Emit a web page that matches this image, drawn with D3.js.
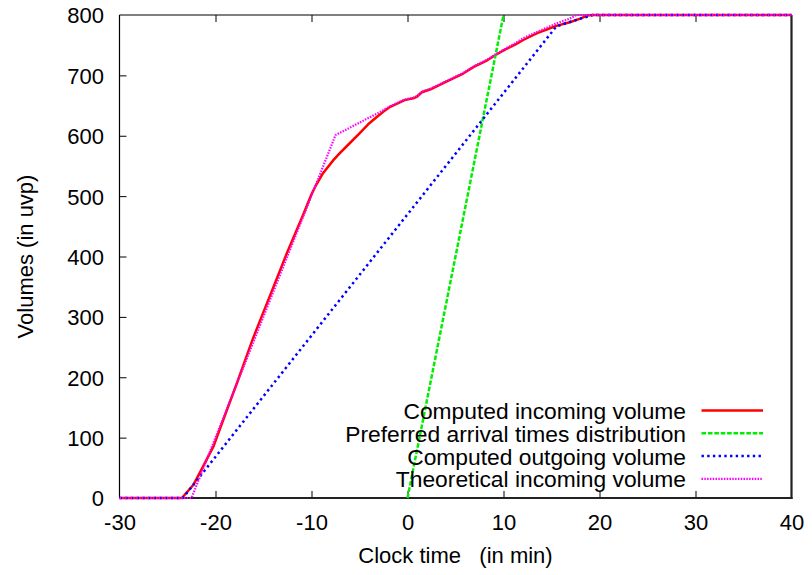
<!DOCTYPE html>
<html>
<head>
<meta charset="utf-8">
<script src="https://cdn.jsdelivr.net/npm/d3@7"></script>
<style>
  html, body { margin: 0; padding: 0; background: #fff; }
  text { font-family: "Liberation Sans", Arial, Helvetica, sans-serif; fill: #000; }
</style>
</head>
<body>
<svg id="chart" width="812" height="575"></svg>
<script>
// Cumulative volumes (uvp) against clock time (min)
const incomingTime = [-30, -23.5, -22.3, -21.3, -20.2, -19.2, -17.8, -16.1, -14.3, -12.6, -10.9, -10.0, -9.6, -8.8, -7.7, -7.0, -6.0, -5.0, -4.1, -3.2, -2.5, -1.8, -0.3, 0.6, 1.0, 1.5, 2.4, 4.1, 5.8, 6.9, 8.3, 9.3, 10.3, 11.2, 12.1, 13.5, 14.5, 15.5, 16.9, 18.0, 18.7, 19.3, 40];
const incomingVol  = [0, 0, 22, 52, 86, 129, 189, 264, 336, 404, 468, 503, 516, 538, 560, 572, 588, 604, 619, 631, 640, 648, 659, 662, 665, 672, 677, 690, 703, 714, 725, 735, 744, 751, 759, 770, 776, 782, 788, 794, 799, 800, 800];

const preferredTime = [0, 10];
const preferredVol  = [0, 800];

const outgoingTime = [-30, -23.4, 15.5, 17.6, 19.3, 40];
const outgoingVol  = [0, 0, 781, 792, 800, 800];

const theoreticalTime = [-30, -22.5, -7.5, -2.9, -1.8, -0.3, 0.6, 1.0, 1.5, 2.4, 4.1, 5.8, 6.9, 8.3, 9.3, 10.3, 11.2, 12.1, 13.5, 14.5, 15.5, 16.9, 17.6, 40];
const theoreticalVol  = [0, 0, 601, 639, 649, 660, 663, 666, 673, 678, 691, 704, 715, 726, 736, 745, 753, 762, 772, 779, 786, 794, 800, 800];

const xTicks = [-30, -20, -10, 0, 10, 20, 30, 40];
const yTicks = [0, 100, 200, 300, 400, 500, 600, 700, 800];

const seriesNames = [
  "Computed incoming volume",
  "Preferred arrival times distribution",
  "Computed outgoing volume",
  "Theoretical incoming volume"
];

const series = [
  { name: seriesNames[0], t: incomingTime,    v: incomingVol,    color: "#ff0000", width: 2.5, dash: null },
  { name: seriesNames[1], t: preferredTime,   v: preferredVol,   color: "#00ee00", width: 2.5, dash: "4.6,1.8" },
  { name: seriesNames[2], t: outgoingTime,    v: outgoingVol,    color: "#0000ff", width: 2.5, dash: "2.4,3.3" },
  { name: seriesNames[3], t: theoreticalTime, v: theoreticalVol, color: "#ff00ff", width: 2.2, dash: "1.5,1.3" }
];

const svg = d3.select("#chart");
const L = 119.5, R = 791.5, T = 15, B = 498;

const x = d3.scaleLinear().domain([-30, 40]).range([L, R]);
const y = d3.scaleLinear().domain([0, 800]).range([B, T]);
const fmt = d => String(d);

// inward ticks on left and bottom, mirrored ticks along the top
const tickLen = 7;
const gx = svg.append("g").attr("transform", `translate(0,${B})`)
  .call(d3.axisBottom(x).tickValues(xTicks).tickSizeInner(-tickLen).tickSizeOuter(0).tickPadding(0).tickFormat(fmt));
gx.select(".domain").remove();
gx.selectAll("line").attr("stroke", "#000");
gx.selectAll("text").attr("y", 32).attr("dy", null).attr("font-size", 22);

const gt = svg.append("g").attr("transform", `translate(0,${T})`)
  .call(d3.axisTop(x).tickValues(xTicks.slice(1, -1)).tickSizeInner(-tickLen).tickSizeOuter(0).tickFormat(""));
gt.select(".domain").remove();
gt.selectAll("line").attr("stroke", "#000");

const gy = svg.append("g").attr("transform", `translate(${L},0)`)
  .call(d3.axisLeft(y).tickValues(yTicks).tickSizeInner(-tickLen).tickSizeOuter(0).tickPadding(0).tickFormat(fmt));
gy.select(".domain").remove();
gy.selectAll("line").attr("stroke", "#000");
gy.selectAll("text").attr("x", -15.5).attr("dy", "0.36em").attr("font-size", 22);
gy.selectAll(".tick line").filter(d => d === 0 || d === 800).remove();
gx.selectAll(".tick line").filter(d => d === -30 || d === 40).remove();

// frame
svg.append("line").attr("x1", L).attr("x2", L).attr("y1", T).attr("y2", B).attr("stroke", "#000").attr("stroke-width", 1.2);
svg.append("line").attr("x1", L).attr("x2", R).attr("y1", T).attr("y2", T).attr("stroke", "#000").attr("stroke-width", 1.2);
svg.append("line").attr("x1", R).attr("x2", R).attr("y1", T).attr("y2", B + 1).attr("stroke", "#222").attr("stroke-width", 2.2);
svg.append("line").attr("x1", L).attr("x2", R + 1).attr("y1", B).attr("y2", B).attr("stroke", "#222").attr("stroke-width", 2.2);

// axis titles
svg.append("text").attr("x", (L + R) / 2).attr("y", 563).attr("text-anchor", "middle")
  .attr("font-size", 22).style("white-space", "pre").attr("xml:space", "preserve")
  .text("Clock time   (in min)");
svg.append("text").attr("transform", `translate(33,${(T + B) / 2}) rotate(-90)`).attr("text-anchor", "middle")
  .attr("font-size", 22).text("Volumes (in uvp)");

// curves
const line = d3.line().x(d => x(d[0])).y(d => y(d[1]));
series.forEach(s => {
  const pts = s.t.map((t, i) => [t, s.v[i]]);
  svg.append("path").datum(pts).attr("d", line)
    .attr("fill", "none").attr("stroke", s.color).attr("stroke-width", s.width)
    .attr("stroke-dasharray", s.dash).attr("stroke-linejoin", "round");
});

// key
const keyBase = 419, keyStep = 22.8;
series.forEach((s, i) => {
  const by = keyBase + i * keyStep;
  svg.append("text").attr("x", 686).attr("y", by).attr("text-anchor", "end").attr("font-size", 22.8).text(s.name);
  svg.append("line").attr("x1", 701.5).attr("x2", 763).attr("y1", by - 8.5).attr("y2", by - 8.5)
    .attr("stroke", s.color).attr("stroke-width", s.width).attr("stroke-dasharray", s.dash);
});
</script>
</body>
</html>
